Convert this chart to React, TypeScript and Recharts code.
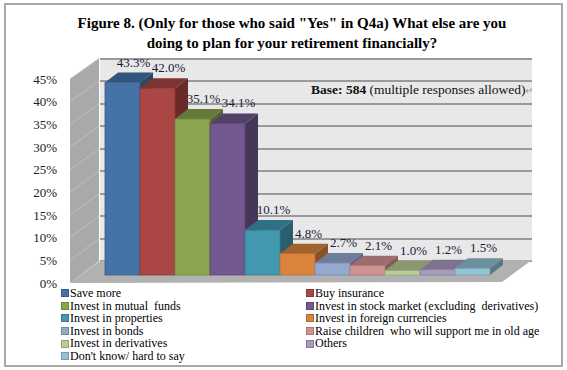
import { BarChart, Bar, XAxis, YAxis, LabelList } from 'recharts';

const categories = [
  'Save more',
  'Buy insurance',
  'Invest in mutual  funds',
  'Invest in stock market (excluding  derivatives)',
  'Invest in properties',
  'Invest in foreign currencies',
  'Invest in bonds',
  'Raise children  who will support me in old age',
  'Invest in derivatives',
  'Others',
  "Don't know/ hard to say",
];
const values = [43.3, 42.0, 35.1, 34.1, 10.1, 4.8, 2.7, 2.1, 1.0, 1.2, 1.5];
const colors = [
  '#4572A7', '#AA4643', '#89A54E', '#71588F', '#4198AF', '#DB843D',
  '#93A9CF', '#D19392', '#B9CD96', '#A99BBD', '#92C3D6',
];
const yTicks = [0, 5, 10, 15, 20, 25, 30, 35, 40, 45];
const yMax = 45;

const row: Record<string, string | number> = { name: 'all' };
categories.forEach((_, i) => {
  row['s' + i] = values[i];
});
const data = [row];

const FONT = "'Liberation Serif', 'Times New Roman', serif";

// plot box of the bars' front plane
const M = { top: 75, right: 82, bottom: 95, left: 45 };
const PLOT = { x: 105, y: 75, w: 380, h: 200 };

// depth of the fake 3d boxes
const DX = 13;
const DY = 10;

function shade(hex: string, f: number) {
  const n = parseInt(hex.slice(1), 16);
  const r = Math.round(((n >> 16) & 255) * f);
  const g = Math.round(((n >> 8) & 255) * f);
  const b = Math.round((n & 255) * f);
  return `rgb(${r},${g},${b})`;
}

function Box(props: any) {
  const { x, y, width: w, height: h, color } = props;
  return (
    <g>
      <polygon
        points={`${x + w},${y} ${x + w + DX},${y - DY} ${x + w + DX},${y + h - DY} ${x + w},${y + h}`}
        fill={shade(color, 0.62)}
      />
      <polygon
        points={`${x},${y} ${x + DX},${y - DY} ${x + w + DX},${y - DY} ${x + w},${y}`}
        fill={shade(color, 0.74)}
      />
      <rect x={x} y={y} width={w} height={h} fill={color} stroke={shade(color, 0.82)} strokeWidth={0.8} />
    </g>
  );
}

// back wall, side wall, floor and gridlines, drawn behind the chart.
// the wall is a dark base with light bands on it, so the gaps read as gridlines
function Walls() {
  const { x, y, w: width, h: height } = PLOT;
  const bottom = y + height;
  const left = x - 35;
  const back = x - 5;
  const right = x + width + 47;
  const backYs = yTicks.map((t) => Math.round(1.0125 * (y + height * (1 - t / yMax)) - 17.4));
  const frontYs = yTicks.map((t) => 1.02 * (y + height * (1 - t / yMax)) + 2.5);
  const bands = [];
  for (let i = 0; i < backYs.length - 1; i++) {
    const lo = backYs[i];
    const hi = backYs[i + 1];
    bands.push(<rect key={'b' + i} x={back} y={hi + 1} width={right - back} height={lo - hi - 2} fill="#e8e8e8" />);
  }
  const side = frontYs.map((fy, i) => (
    <polygon
      key={'s' + i}
      points={`${left},${fy - 0.5} ${back - 1},${backYs[i] - 0.5} ${back - 1},${backYs[i] + 0.5} ${left},${fy + 0.5}`}
      fill="#c0c0c0"
    />
  ));
  return (
    <svg width={567} height={370} style={{ position: 'absolute', left: 0, top: 0 }}>
      <rect x={back} y={backYs[backYs.length - 1] - 1} width={right - back} height={backYs[0] - backYs[backYs.length - 1] + 2} fill="#9a9a9a" />
      {bands}
      <polygon
        points={`${left},${y + 4} ${back - 1},${y - 17} ${back - 1},${bottom - 14} ${left},${bottom + 8}`}
        fill="#a9a9a9"
      />
      {side}
      <polygon
        points={`${left},${bottom + 8} ${back},${bottom - 14} ${right},${bottom - 15} ${right - 30},${bottom + 7}`}
        fill="#b1b1b1"
      />
    </svg>
  );
}

function YTick(p: any) {
  const { y, payload } = p;
  return (
    <text x={57} y={1.02 * y + 2.5} dy="0.35em" textAnchor="end" fontSize={13} fill="#222" fontFamily={FONT}>
      {payload.value}%
    </text>
  );
}

function ValueLabel(p: any) {
  const { x, y, width, value } = p;
  return (
    <text x={x + width / 2 + 11} y={y - 16} textAnchor="middle" fontSize={13} fill="#1a1a3a" fontFamily={FONT}>
      {Number(value).toFixed(1)}%
    </text>
  );
}

export default function App() {
  return (
    <div style={{ position: 'absolute', left: 0, top: 0, width: 567, height: 370, background: '#fff', fontFamily: FONT }}>
      <div style={{ position: 'absolute', left: 4, top: 3, width: 555, height: 360, border: '2px solid #a8a8a8' }} />
      <div
        style={{
          position: 'absolute', left: 0, top: 13, width: 584, textAlign: 'center',
          fontWeight: 'bold', fontSize: 15, lineHeight: '20px', color: '#000',
        }}
      >
        Figure 8. (Only for those who said "Yes" in Q4a) What else are you
        <br />
        doing to plan for your retirement financially?
      </div>
      <Walls />
      <div style={{ position: 'absolute', left: 0, top: 0 }}>
        <BarChart width={567} height={370} data={data} margin={M} barGap={0} barCategoryGap={0}>
          <XAxis dataKey="name" hide />
          <YAxis domain={[0, yMax]} ticks={yTicks} interval={0} width={60} axisLine={false} tickLine={false} tick={<YTick />} />
          {categories.map((c, i) => (
            <Bar key={c} dataKey={'s' + i} name={c} fill={colors[i]} isAnimationActive={false} shape={<Box color={colors[i]} />}>
              <LabelList dataKey={'s' + i} content={<ValueLabel />} />
            </Bar>
          ))}
        </BarChart>
      </div>
      <div style={{ position: 'absolute', left: 311, top: 82, fontSize: 13.5, lineHeight: '15px', color: '#111', whiteSpace: 'nowrap' }}>
        <b>Base:</b> <b>584</b> (multiple responses allowed)<span style={{ color: '#999', fontSize: 10 }}>↵</span>
      </div>
      <div
        style={{
          position: 'absolute', left: 61, top: 287, display: 'grid',
          gridTemplateColumns: '245px 260px', fontSize: 12, lineHeight: '12.6px', color: '#000',
        }}
      >
        {categories.map((c, i) => (
          <div key={c} style={{ display: 'flex', alignItems: 'center', whiteSpace: 'pre' }}>
            <span style={{ display: 'inline-block', width: 6, height: 6, background: colors[i], border: '0.5px solid ' + shade(colors[i], 0.8), marginRight: 1 }} />
            {c}
          </div>
        ))}
      </div>
    </div>
  );
}
